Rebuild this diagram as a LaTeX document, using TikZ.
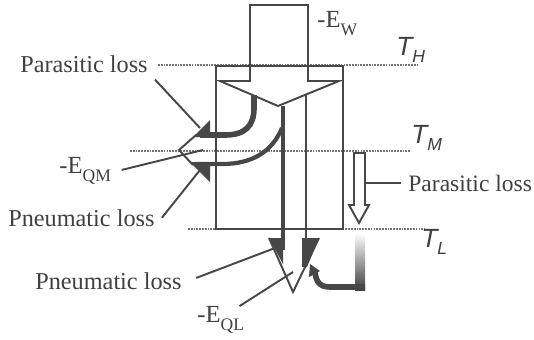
\documentclass[tikz,border=0pt]{standalone}
\usepackage{fontspec}
\setmainfont{Liberation Serif}
\newfontfamily\tempfont{Liberation Sans}
\newcommand{\eflow}[1]{-E\raisebox{-5pt}{\fontsize{10}{10}\selectfont #1}}
\newcommand{\tlevel}[1]{{\tempfont\itshape T\raisebox{-4pt}{\fontsize{10}{10}\selectfont #1}}}
\tikzset{
  lineg/.style={draw=black!72, line width=1.1pt},
  level/.style={draw=black!55, line width=1.2pt, dash pattern=on 1pt off 0.6pt},
  band/.style={draw=black!72, line width=3.2pt},
  darkfill/.style={fill=black!72},
  loss/.style={font=\fontsize{13.8}{14}\selectfont, text=black!75, anchor=base west, inner sep=4pt},
  templabel/.style={font=\fontsize{15}{15}\selectfont, text=black!75, anchor=base west, inner sep=0pt},
}
\begin{document}
\begin{tikzpicture}[x=0.02cm, y=-0.02cm]
\useasboundingbox (0,0) rectangle (534,339);
% temperature levels
\draw[level] (158,65) -- (418,65);
\draw[level] (130,151) -- (411,151);
\draw[level] (188,229) -- (425,229);
\node[templabel] (tH) at (396,55) {\tlevel{H}};
\node[templabel] (tM) at (411,143) {\tlevel{M}};
\node[templabel] (tL) at (421,247) {\tlevel{L}};

% regenerator box
\draw[lineg] (216,66) rectangle (343,229);

% work input arrow
\draw[lineg] (250,66) |- (308,5) -- (308,81) -- (339,81) -- (278,106) -- (220,81) -- (250,81) -- cycle;
\node[loss, font=\fontsize{14}{14}\selectfont] (eW) at (310,27) {\eflow{W}};

% heat rejected at middle
\draw[band] (254,95) -- (254,108) .. controls (254,126) and (245,135) .. (225,135) -- (200,135);
\draw[draw=black!72, line width=2.4pt] (282,128) .. controls (272,152) and (252,164) .. (222,164) -- (195,164);
\draw[lineg] (196,135) -- (179,150) -- (193,165);
\fill[darkfill] (210,120) -- (210,137) -- (193,137) -- cycle;
\fill[darkfill] (210,182) -- (210,162) -- (190,162) -- cycle;
\coordinate (headM) at (203,150);
\coordinate (headMtop) at (200,128);
\coordinate (headMbot) at (200,170);
\node[loss, font=\fontsize{14}{14}\selectfont] (eQM) at (52,173) {\eflow{QM}};
\node[loss] (paraL) at (13,72) {Parasitic loss};
\node[loss] (pneuL) at (1,226) {Pneumatic loss};
\draw[lineg] (paraL.south east) -- (headMtop);
\draw[lineg, shorten <=2pt] (eQM.east) -- (headM);
\draw[lineg] (pneuL.east) -- (headMbot);

% heat rejected at bottom
\draw[draw=black!72, line width=2.8pt] (283,106) -- (283,250);
\draw[lineg] (306,95) -- (306,238);
\draw[lineg] (269,238) -- (293,292) -- (319,238);
\fill[darkfill] (269,238) -- (283,238) -- (283,264) -- cycle;
\fill[darkfill] (302,238) -- (319,238) -- (307,267) -- (302,267) -- cycle;
\coordinate (headLl) at (275,248);
\coordinate (headLr) at (293,272);
\node[loss] (pneuB) at (28,289) {Pneumatic loss};
\node[loss, font=\fontsize{14}{14}\selectfont] (eQL) at (190,322) {\eflow{QL}};
\draw[lineg, shorten <=4.5pt] (pneuB.east) -- (headLl);
\draw[lineg, shorten <=-8pt] (eQL.north east) -- (headLr);

% parasitic loss down the wall
\draw[lineg] (354,153) -- (354,205) -- (349,205) -- (359,223) -- (369,205) -- (365,205) -- (365,153) -- cycle;
\coordinate (stemR) at (365,184);
\node[loss, font=\fontsize{13.4}{14}\selectfont] (paraR) at (401,191) {Parasitic loss};
\draw[lineg] (paraR.west) -- (paraR.west -| stemR);

% return of the parasitic loss
\shade[top color=white, bottom color=black!75] (355,233) rectangle (365,290);
\draw[band] (365,287) -- (330,287) .. controls (320,287) and (316,282) .. (315,272);
\fill[darkfill] (310,264) -- (320,271) -- (309,277) -- cycle;
\end{tikzpicture}
\end{document}
